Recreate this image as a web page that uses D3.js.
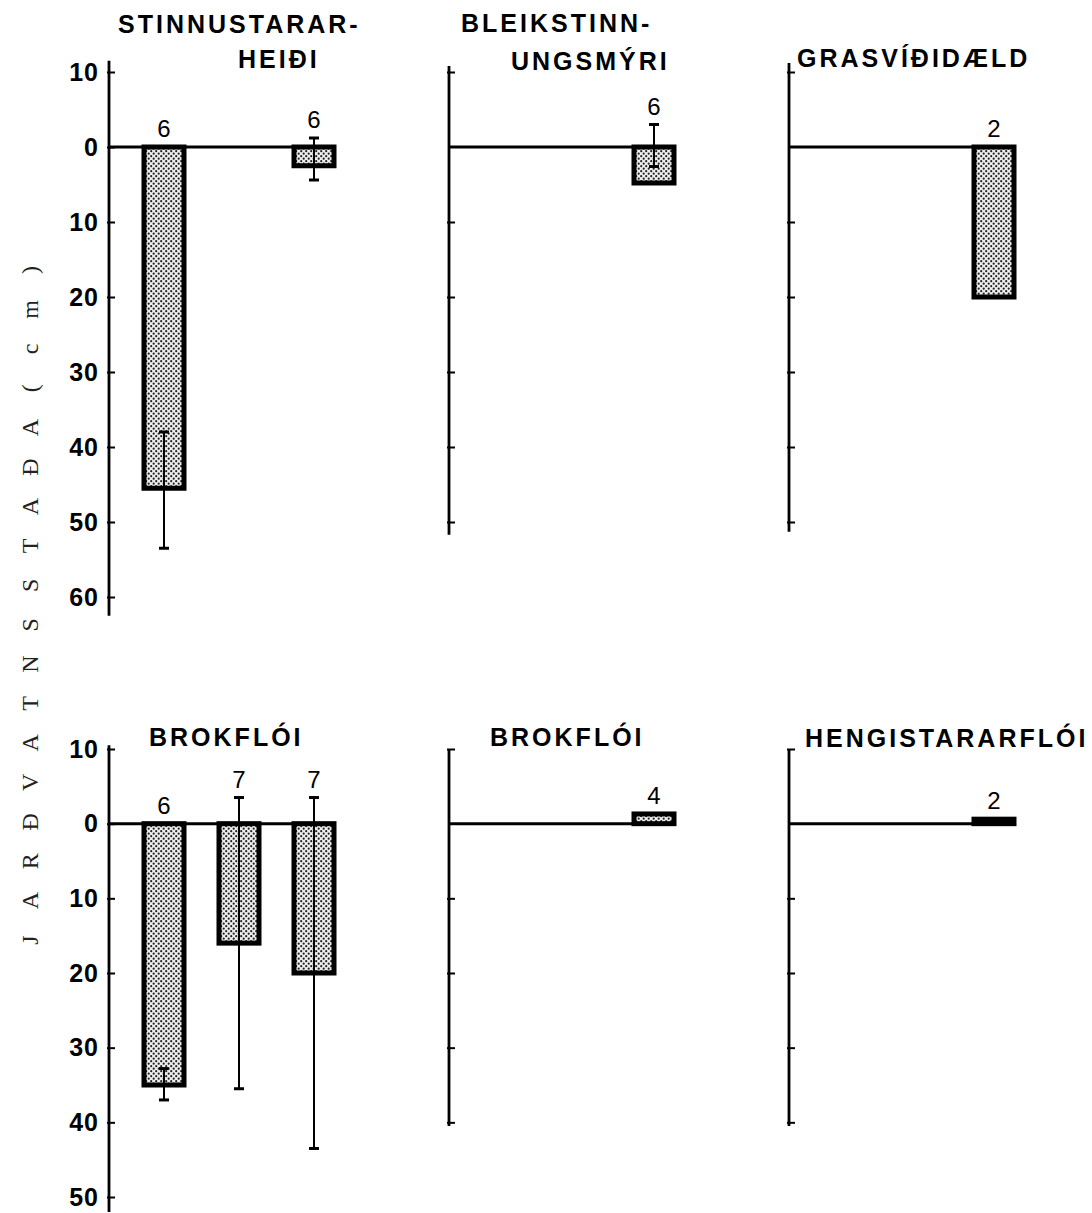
<!DOCTYPE html>
<html>
<head>
<meta charset="utf-8">
<script src="https://cdn.jsdelivr.net/npm/d3@7"></script>
<style>
  body { margin: 0; background: #fff; }
  svg { display: block; }
</style>
</head>
<body>
<div id="graph"></div>
<script>
const width = 1092, height = 1213;

// panel titles (one or two lines each)
const panelTitles = [
  ["STINNUSTARAR-", "HEIÐI"],
  ["BLEIKSTINN-", "UNGSMÝRI"],
  ["GRASVÍÐIDÆLD"],
  ["BROKFLÓI"],
  ["BROKFLÓI"],
  ["HENGISTARARFLÓI"]
];
const panelCol = [0, 1, 2, 0, 1, 2];
const panelRow = [0, 0, 0, 1, 1, 1];

// tick values (depth, cm; negative = above surface)
const ticksTop = [-10, 0, 10, 20, 30, 40, 50, 60];
const ticksBottom = [-10, 0, 10, 20, 30, 40, 50];
const ticksTopRest = [-10, 10, 20, 30, 40, 50];
const ticksBottomRest = [-10, 10, 20, 30, 40];
// how far each axis line runs
const axisFrom = [-11.5, -10.8, -11.2, -10.5, -10, -10];
const axisTo = [62.5, 51.7, 51.3, 52, 40.5, 40.5];

// bars: panel, slot, mean depth, error range, n
const barPanel = [0, 0, 1, 2, 3, 3, 3, 4, 5];
const barSlot = [0, 2, 2, 2, 0, 1, 2, 2, 2];
const barMean = [45.5, 2.5, 4.8, 20, 35, 16, 20, -1.3, -0.6];
const errLow = [38, -1.2, -3, null, 32.8, -3.5, -3.5, null, null];
const errHigh = [53.5, 4.4, 2.6, null, 37, 35.5, 43.5, null, null];
const nObs = [6, 6, 6, 2, 6, 7, 7, 4, 2];

const yTitle = "JARÐVATNSSTAÐA(cm)";

const svg = d3.select("#graph")
  .append("svg")
  .attr("width", width)
  .attr("height", height);

// stipple fill
const pat = svg.append("defs").append("pattern")
  .attr("id", "stipple")
  .attr("patternUnits", "userSpaceOnUse")
  .attr("width", 5).attr("height", 5);
pat.append("rect").attr("width", 5).attr("height", 5).attr("fill", "#eeeeee");
pat.append("circle").attr("cx", 1.2).attr("cy", 1.2).attr("r", 1.1).attr("fill", "#222");
pat.append("circle").attr("cx", 3.7).attr("cy", 3.7).attr("r", 1.1).attr("fill", "#222");

const colX = d3.scaleLinear().domain([0, 2]).range([109, 789]);
const yRow = [
  d3.scaleLinear().domain([-10, 60]).range([72, 597]),
  d3.scaleLinear().domain([-10, 50]).range([749, 1197])
];
const slot = d3.scaleBand().domain([0, 1, 2]).range([35, 225])
  .paddingInner(35 / 75).paddingOuter(0);
const zeroLen = 225;

// title placement, offsets from each panel's axis
const titleDx = [[9, 129], [12, 62], [8], [40], [41], [16]];
const titleY = [[33, 68], [32, 70], [67], [746], [746], [747]];

panelTitles.forEach((lines, p) => {
  const x0 = colX(panelCol[p]);
  const y = yRow[panelRow[p]];
  const g = svg.append("g").attr("transform", `translate(${x0},0)`);

  const ticks = panelCol[p] === 0
    ? (panelRow[p] === 0 ? ticksTop : ticksBottom)
    : (panelRow[p] === 0 ? ticksTopRest : ticksBottomRest);

  const ax = g.append("g")
    .call(d3.axisLeft(y).tickValues(ticks)
      .tickSizeInner(-6).tickSizeOuter(0).tickPadding(10)
      .tickFormat(d => panelCol[p] === 0 ? Math.abs(d) : ""));
  ax.select(".domain").remove();
  ax.selectAll(".tick line").attr("stroke", "#000").attr("stroke-width", 2).attr("x1", -2);
  ax.selectAll(".tick text")
    .attr("fill", "#000")
    .style("font", "bold 25px 'Liberation Sans', Arial, sans-serif")
    .style("letter-spacing", "1px");

  g.append("line")
    .attr("x1", 0).attr("x2", 0)
    .attr("y1", y(axisFrom[p])).attr("y2", y(axisTo[p]))
    .attr("stroke", "#000").attr("stroke-width", 2.8);

  g.append("line")
    .attr("x1", 0).attr("x2", zeroLen)
    .attr("y1", y(0)).attr("y2", y(0))
    .attr("stroke", "#000").attr("stroke-width", 3);

  lines.forEach((t, i) => {
    g.append("text")
      .attr("x", titleDx[p][i]).attr("y", titleY[p][i])
      .style("font", "bold 25px 'Liberation Sans', Arial, sans-serif")
      .style("letter-spacing", "3px")
      .text(t);
  });
});

// bars
barMean.forEach((v, i) => {
  const p = barPanel[i];
  const y = yRow[panelRow[p]];
  const x = colX(panelCol[p]) + slot(barSlot[i]);
  const cx = x + slot.bandwidth() / 2;
  const top = Math.min(y(0), y(v)), bot = Math.max(y(0), y(v));

  svg.append("rect")
    .attr("x", x).attr("y", top)
    .attr("width", slot.bandwidth()).attr("height", bot - top)
    .attr("fill", "url(#stipple)")
    .attr("stroke", "#000").attr("stroke-width", 5);

  let labelRef = top;
  if (errLow[i] !== null) {
    svg.append("line")
      .attr("x1", cx).attr("x2", cx)
      .attr("y1", y(errLow[i])).attr("y2", y(errHigh[i]))
      .attr("stroke", "#000").attr("stroke-width", 2);
    [errLow[i], errHigh[i]].forEach(e => {
      svg.append("line")
        .attr("x1", cx - 5).attr("x2", cx + 5)
        .attr("y1", y(e)).attr("y2", y(e))
        .attr("stroke", "#000").attr("stroke-width", 3);
    });
    labelRef = Math.min(top, y(errLow[i]));
  }

  svg.append("text")
    .attr("x", cx).attr("y", labelRef - 10)
    .attr("text-anchor", "middle")
    .style("font", "24px 'Liberation Sans', Arial, sans-serif")
    .text(nObs[i]);
});

// y axis title, one evenly spaced typewriter glyph at a time
const charPos = d3.scaleLinear().domain([0, yTitle.length - 1]).range([940, 270]);
svg.append("g")
  .selectAll("text")
  .data(yTitle.split(""))
  .join("text")
    .attr("transform", (d, i) => `translate(38,${charPos(i)}) rotate(-90)`)
    .attr("text-anchor", "middle")
    .style("font", "24px 'Liberation Serif', 'DejaVu Serif', serif")
    .attr("fill", "#222")
    .text(d => d);
</script>
</body>
</html>
